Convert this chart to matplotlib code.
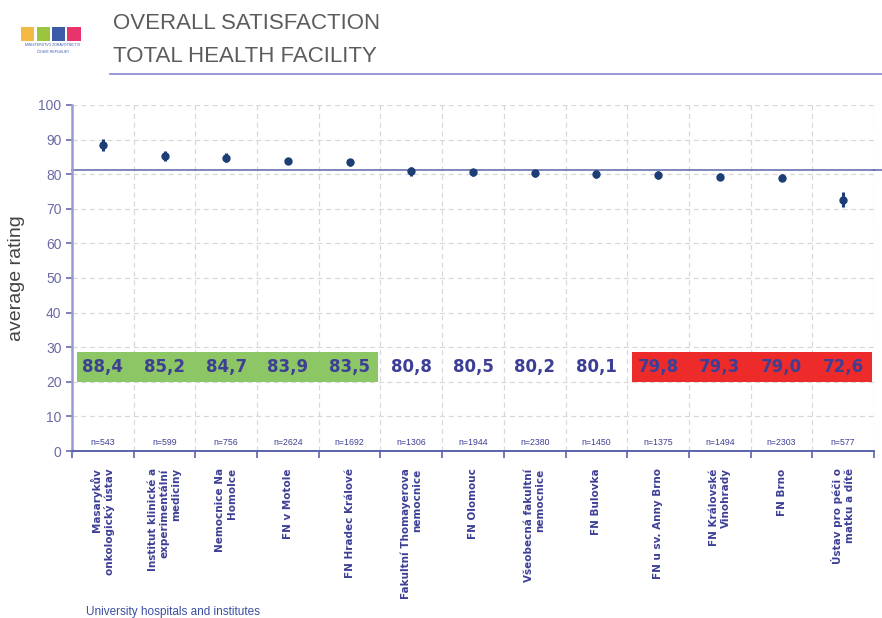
import matplotlib.pyplot as plt
import matplotlib.patches as mpatches
import numpy as np

plt.rcParams['font.family'] = ['Liberation Sans', 'DejaVu Sans']

hospitals = [
    "Masarykův\nonkologický ústav",
    "Institut klinické a\nexperimentální\nmediciny",
    "Nemocnice Na\nHomolce",
    "FN v Motole",
    "FN Hradec Králové",
    "Fakultní Thomayerova\nnemocnice",
    "FN Olomouc",
    "Všeobecná fakultní\nnemocnice",
    "FN Bulovka",
    "FN u sv. Anny Brno",
    "FN Královské\nVinohrady",
    "FN Brno",
    "Ústav pro péči o\nmatku a dítě",
]
ratings = [88.4, 85.2, 84.7, 83.9, 83.5, 80.8, 80.5, 80.2, 80.1, 79.8, 79.3, 79.0, 72.6]
errors = [1.7, 1.4, 1.3, 0.9, 1.0, 1.2, 0.9, 0.9, 1.1, 1.1, 1.1, 0.9, 2.1]
counts = [543, 599, 756, 2624, 1692, 1306, 1944, 2380, 1450, 1375, 1494, 2303, 577]
# 1 = top group (green), 0 = middle, -1 = bottom group (red)
groups = [1, 1, 1, 1, 1, 0, 0, 0, 0, -1, -1, -1, -1]
overall_avg = 81.3

text_blue = "#3d3f95"
tick_blue = "#6a6aa8"
point_col = "#1c3d75"
bold_font = ['DejaVu Sans']

fig = plt.figure(figsize=(8.82, 6.18), dpi=100)
ax = fig.add_axes([0.0816, 0.2702, 0.9094, 0.5600])

x = np.arange(len(ratings)) + 0.5

# highlight boxes behind the value labels
box_colors = {1: "#8cc665", -1: "#ee2b2b"}
for g, col in box_colors.items():
    idx = [i for i, v in enumerate(groups) if v == g]
    lo, hi = min(idx), max(idx) + 1
    ax.add_patch(mpatches.Rectangle((lo + 0.08, 19.8), hi - lo - 0.12, 8.8,
                                    facecolor=col, edgecolor="none", zorder=1))

for xi, r, n in zip(x, ratings, counts):
    ax.text(xi, 24.2, f"{r:.1f}".replace(".", ","), ha="center", va="center",
            fontsize=12, fontweight="bold", family=bold_font, color=text_blue, zorder=3)
    ax.text(xi, 2.6, f"n={n}", ha="center", va="center", fontsize=6.3,
            color=text_blue, zorder=3)

ax.axhline(overall_avg, color="#5a64a8", lw=1.1, zorder=2, clip_on=False)
ax.plot([13, 13.2], [overall_avg, overall_avg], color="#5a64a8", lw=1.1, clip_on=False)

ax.errorbar(x, ratings, yerr=errors, fmt="o", color=point_col, ms=5,
            elinewidth=2.2, capsize=0, zorder=4)

ax.set_xlim(0, len(ratings))
ax.set_ylim(0, 100)
ax.set_yticks(range(0, 101, 10))
ax.set_xticks(np.arange(len(ratings) + 1))
ax.set_xticklabels([])
ax.tick_params(axis="y", colors=tick_blue, labelsize=10, length=4, width=1.2)
ax.tick_params(axis="x", colors="#5a64a8", length=5, width=1.2)
ax.grid(True, color="#d8d8d8", linestyle=(0, (4, 3)), lw=0.9, zorder=0)
ax.set_axisbelow(True)
for s in ["top", "right"]:
    ax.spines[s].set_visible(False)
ax.spines["left"].set_color("#9a9ad4")
ax.spines["left"].set_linewidth(1.8)
ax.spines["bottom"].set_color("#5a64a8")
ax.spines["bottom"].set_linewidth(1.4)

ax.set_ylabel("average rating", fontsize=14, color="#444444", labelpad=10)

for xi, name in zip(x, hospitals):
    ax.text(xi, -5, name, rotation=90, ha="center", va="top",
            multialignment="right", fontsize=7.5, fontweight="bold", family=bold_font,
            color=text_blue, transform=ax.transData, clip_on=False)

# header
fig.text(0.128, 0.962, "OVERALL SATISFACTION", fontsize=16, color="#5c5c5c", va="center")
fig.text(0.128, 0.908, "TOTAL HEALTH FACILITY", fontsize=16, color="#5c5c5c", va="center")
fig.add_artist(plt.Line2D([0.125, 1.0], [0.881, 0.881], color="#8888cc", lw=1.2))

# small logo
logo_cols = ["#f4b942", "#9bc53d", "#3b5ba9", "#e8336b"]
for i, c in enumerate(logo_cols):
    fig.add_artist(mpatches.Rectangle((0.024 + i * 0.0175, 0.934), 0.015, 0.022,
                                      facecolor=c, edgecolor="none"))
fig.text(0.06, 0.925, "MINISTERSTVO ZDRAVOTNICTVÍ", fontsize=2.5, color="#3b5ba9", ha="center")
fig.text(0.06, 0.915, "ČESKÉ REPUBLIKY", fontsize=2.5, color="#3b5ba9", ha="center")

fig.text(0.098, 0.005, "University hospitals and institutes", fontsize=8.5, color="#3a4fa0")

fig.savefig("out.png", dpi=100)
